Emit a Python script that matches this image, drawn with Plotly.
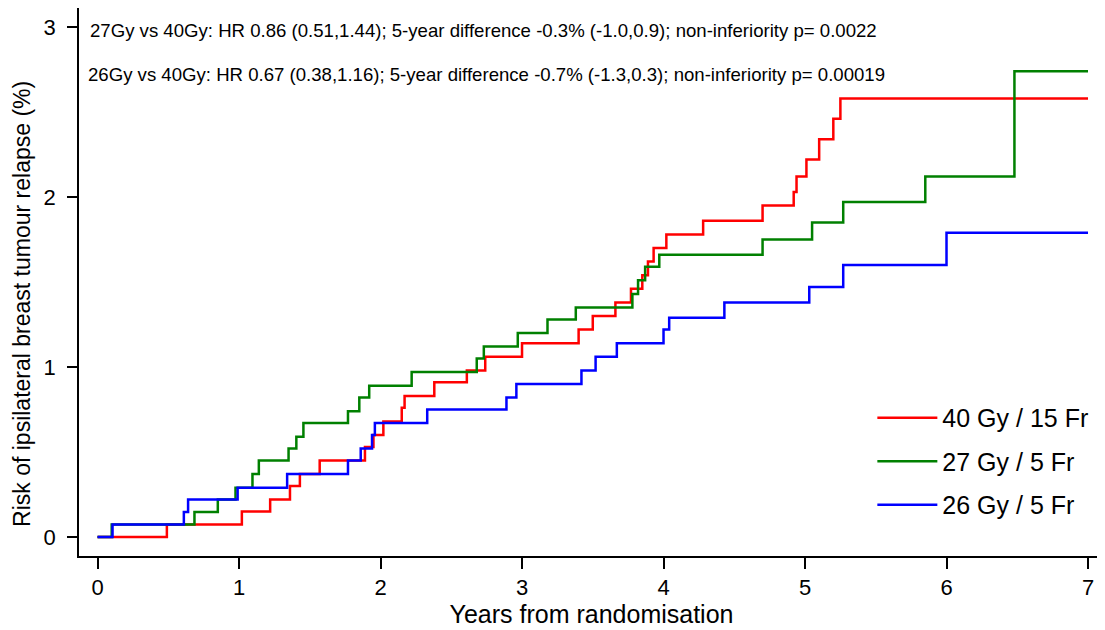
import plotly.graph_objects as go

# ---- data ----
arm_names = ["40 Gy / 15 Fr", "27 Gy / 5 Fr", "26 Gy / 5 Fr"]
arm_colors = ["#FF0000", "#008000", "#0000FF"]

t_40gy = [0, 0.49, 1.02, 1.22, 1.36, 1.43, 1.57, 1.89, 1.95, 2.02, 2.15, 2.17, 2.38, 2.61,
          2.74, 3.00, 3.40, 3.50, 3.66, 3.77, 3.85, 3.89, 3.93, 4.02, 4.28, 4.70, 4.92, 4.94,
          5.01, 5.10, 5.20, 5.25, 7.0]
r_40gy = [0, 0.074, 0.15, 0.22, 0.30, 0.37, 0.45, 0.53, 0.60, 0.68, 0.76, 0.83, 0.91, 0.98,
          1.06, 1.14, 1.22, 1.30, 1.38, 1.46, 1.54, 1.62, 1.70, 1.78, 1.86, 1.95, 2.03, 2.12,
          2.22, 2.34, 2.46, 2.58, 2.58]

t_27gy = [0, 0.10, 0.685, 0.85, 0.975, 1.095, 1.14, 1.35, 1.405, 1.455, 1.77, 1.85, 1.92,
          2.22, 2.68, 2.73, 2.97, 3.18, 3.38, 3.78, 3.82, 3.87, 3.97, 4.70, 5.05, 5.27, 5.85,
          6.48, 7.0]
r_27gy = [0, 0.074, 0.147, 0.22, 0.29, 0.37, 0.45, 0.52, 0.59, 0.67, 0.74, 0.82, 0.89,
          0.97, 1.05, 1.12, 1.20, 1.28, 1.35, 1.43, 1.51, 1.59, 1.66, 1.75, 1.85, 1.97, 2.12,
          2.74, 2.74]

t_26gy = [0, 0.106, 0.61, 0.64, 0.99, 1.34, 1.77, 1.86, 1.94, 1.96, 2.33, 2.89, 2.96, 3.42,
          3.52, 3.67, 4.00, 4.04, 4.43, 5.03, 5.27, 6.00, 7.0]
r_26gy = [0, 0.074, 0.147, 0.22, 0.29, 0.37, 0.45, 0.52, 0.60, 0.67, 0.75, 0.82, 0.90, 0.98,
          1.06, 1.14, 1.22, 1.29, 1.38, 1.47, 1.60, 1.79, 1.79]

x_ticks = [0, 1, 2, 3, 4, 5, 6, 7]
y_ticks = [0, 1, 2, 3]

x_title = "Years from randomisation"
y_title = "Risk of ipsilateral breast tumour relapse (%)"

annot_lines = [
    "27Gy vs 40Gy: HR 0.86 (0.51,1.44); 5-year difference -0.3% (-1.0,0.9); non-inferiority p= 0.0022",
    "26Gy vs 40Gy: HR 0.67 (0.38,1.16); 5-year difference -0.7% (-1.3,0.3); non-inferiority p= 0.00019",
]
annot_y = [2.98, 2.72]
annot_x = [-0.064, -0.079]

FONT = "Arial, Liberation Sans, Helvetica, sans-serif"

fig = go.Figure()
series = [(t_40gy, r_40gy), (t_27gy, r_27gy), (t_26gy, r_26gy)]
for i, ((tx, ry), name, col) in enumerate(zip(series, arm_names, arm_colors)):
    fig.add_trace(go.Scatter(
        x=tx, y=ry, mode="lines", name=name,
        line=dict(color=col, width=2.5, shape="hv"),
        legendgroup=f"g{i}",
    ))

for txt, yy, xx in zip(annot_lines, annot_y, annot_x):
    fig.add_annotation(x=xx, y=yy, xref="x", yref="y", text=txt, showarrow=False,
                       xanchor="left", yanchor="middle",
                       font=dict(family=FONT, size=18.6, color="black"))

# y-axis title as rotated text (positioned like the reference)
fig.add_annotation(x=-0.0556, y=0.46, xref="paper", yref="paper", text=y_title,
                   showarrow=False, textangle=-90, xanchor="center", yanchor="middle",
                   font=dict(family=FONT, size=23, color="black"))

# page body has an 8px margin, so the figure is drawn 8px smaller and offset accordingly
fig.update_layout(
    width=1097, height=622,
    margin=dict(l=71, r=1, t=0, b=74, autoexpand=False),
    paper_bgcolor="white", plot_bgcolor="white",
    font=dict(family=FONT, color="black"),
    showlegend=True,
    legend=dict(x=0.774, y=0.294, xanchor="left", yanchor="top",
                font=dict(family=FONT, size=25, color="black"),
                bgcolor="rgba(0,0,0,0)", itemwidth=60, tracegroupgap=8),
    xaxis=dict(range=[-0.131, 7.113], tickvals=x_ticks, ticktext=[str(v) for v in x_ticks],
               showgrid=False, zeroline=False, showline=True, linecolor="black", linewidth=1.5,
               ticks="outside", ticklen=11, tickwidth=1.5, tickcolor="black",
               tickfont=dict(size=22), automargin=False,
               title=dict(text=x_title, font=dict(size=25), standoff=4)),
    yaxis=dict(range=[-0.112, 3.112], tickvals=y_ticks, ticktext=[str(v) for v in y_ticks],
               showgrid=False, zeroline=False, showline=True, linecolor="black", linewidth=1.5,
               ticks="outside", ticklen=10, tickwidth=1.5, tickcolor="black",
               tickfont=dict(size=22), ticklabelstandoff=7, automargin=False),
)

fig.write_html("out.html")
